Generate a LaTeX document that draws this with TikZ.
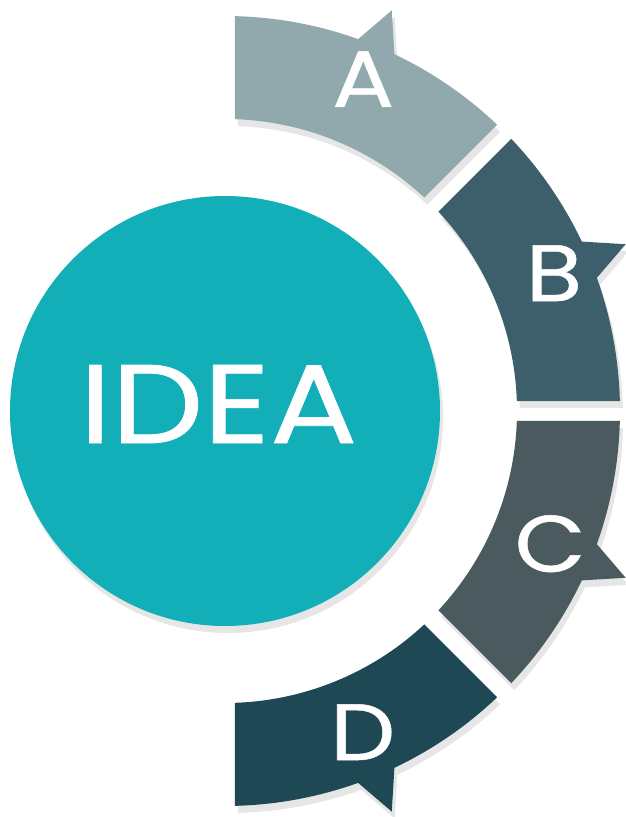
\documentclass[tikz,border=0pt]{standalone}
\usepackage{fontspec}
\setmainfont{Poppins}[FakeBold=0.6]
\definecolor{segA}{HTML}{91A9AD}
\definecolor{segB}{HTML}{3C5F6B}
\definecolor{segC}{HTML}{4B5A5E}
\definecolor{segD}{HTML}{1E4854}
\definecolor{ideaC}{HTML}{13AFB9}
\definecolor{shadowC}{HTML}{E6E6E6}
\tikzset{
  segshadow/.style={fill=shadowC, draw=none, shift={(3,-7)}},
  letter/.style={text=white, font=\fontsize{80}{80}\selectfont, inner sep=0pt, xscale=1.15},
}
\begin{document}
\begin{tikzpicture}[x=1pt,y=1pt]
\useasboundingbox (0,0) rectangle (625,817);
\def\pathA{(88.55:395) arc[start angle=88.55, end angle=70.3, radius=395] -- (67.4:434) -- (64.6:395) arc[start angle=64.6, end angle=46.45, radius=395] -- (46.96:292) arc[start angle=46.96, end angle=88.04, radius=292] -- cycle}
\def\pathB{(43.55:395) arc[start angle=43.55, end angle=25.4, radius=395] -- (22.6:434) -- (19.7:395) arc[start angle=19.7, end angle=1.45, radius=395] -- (1.96:292) arc[start angle=1.96, end angle=43.04, radius=292] -- cycle}
\def\pathC{(-1.45:395) arc[start angle=-1.45, end angle=-19.7, radius=395] -- (-22.6:434) -- (-25.4:395) arc[start angle=-25.4, end angle=-43.55, radius=395] -- (-43.04:292) arc[start angle=-43.04, end angle=-1.96, radius=292] -- cycle}
\def\pathD{(-46.45:395) arc[start angle=-46.45, end angle=-64.6, radius=395] -- (-67.4:434) -- (-70.3:395) arc[start angle=-70.3, end angle=-88.55, radius=395] -- (-88.04:292) arc[start angle=-88.04, end angle=-46.96, radius=292] -- cycle}
\begin{scope}[shift={(225,406)}]
  % shadows
  \fill[segshadow] (0,0) circle[radius=215];
  \fill[segshadow] \pathA;
  \fill[segshadow] \pathB;
  \fill[segshadow] \pathC;
  \fill[segshadow] \pathD;
  % shapes
  \fill[segA] \pathA;
  \fill[segB] \pathB;
  \fill[segC] \pathC;
  \fill[segD] \pathD;
  \node[circle, fill=ideaC, minimum size=430, inner sep=0pt] (idea) at (0,0) {};
  \node[text=white, font=\fontsize{112}{112}\selectfont, inner sep=0pt, xscale=1.16] (ideatext) at (-6.5,7) {IDEA};
  \node[letter] (la) at ([shift={(2,3)}]67.5:356) {A};
  \node[letter] (lb) at ([shift={(1,2)}]22.5:355) {B};
  \node[letter] (lc) at ([shift={(0,2)}]-22.5:352) {C};
  \node[letter] (ld) at ([shift={(3,4)}]-67.5:352) {D};
\end{scope}
\end{tikzpicture}
\end{document}
